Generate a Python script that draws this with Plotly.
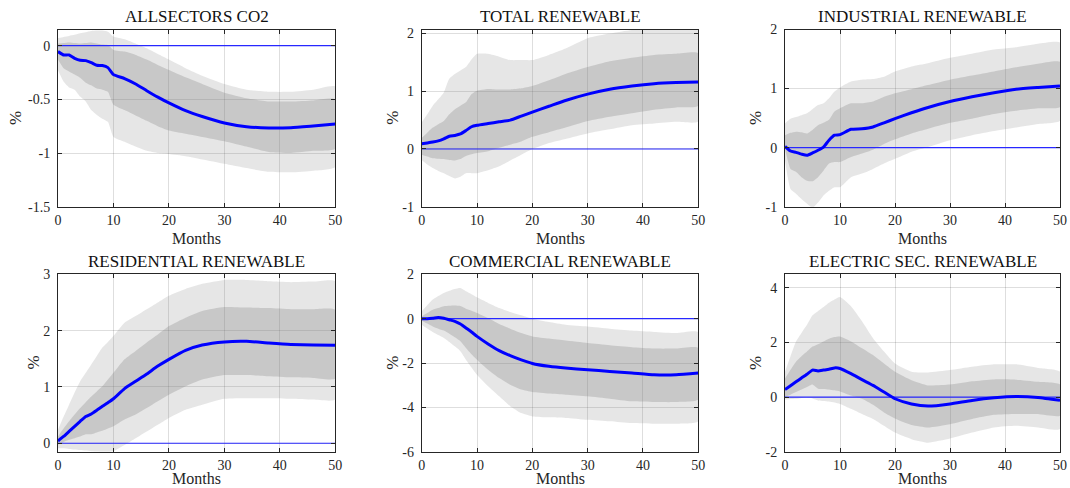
import plotly.graph_objects as go

# Horizon (months) at which the impulse responses are tabulated
months = [0, 1, 2, 3, 4, 5, 6, 7, 8, 9, 10, 12, 14, 16, 18, 20, 23, 26, 30, 34, 38, 42, 46, 50]

titles = ["ALLSECTORS CO2", "TOTAL RENEWABLE", "INDUSTRIAL RENEWABLE",
          "RESIDENTIAL RENEWABLE", "COMMERCIAL RENEWABLE", "ELECTRIC SEC. RENEWABLE"]

# ---- ALLSECTORS CO2 ----
co2_med = [-0.056, -0.087, -0.087, -0.118, -0.137, -0.14, -0.158, -0.183, -0.186, -0.205, -0.27, -0.307,
           -0.357, -0.42, -0.48, -0.534, -0.606, -0.66, -0.72, -0.755, -0.767, -0.764, -0.748, -0.73]
co2_in_up = [0.02, 0.025, 0.03, 0.025, 0.02, 0.025, 0.03, 0.02, 0.01, 0.005, -0.04, -0.056,
             -0.087, -0.13, -0.18, -0.227, -0.295, -0.357, -0.438, -0.49, -0.52, -0.52, -0.51, -0.5]
co2_in_lo = [-0.13, -0.21, -0.24, -0.27, -0.30, -0.345, -0.37, -0.40, -0.41, -0.43, -0.55, -0.60,
             -0.65, -0.70, -0.75, -0.79, -0.82, -0.85, -0.89, -0.94, -0.99, -1.0, -0.98, -0.96]
co2_out_up = [0.07, 0.08, 0.09, 0.10, 0.115, 0.125, 0.137, 0.14, 0.14, 0.13, 0.085, 0.06,
              0.02, -0.025, -0.078, -0.13, -0.21, -0.28, -0.357, -0.41, -0.43, -0.43, -0.41, -0.38]
co2_out_lo = [-0.23, -0.335, -0.39, -0.41, -0.475, -0.52, -0.60, -0.645, -0.68, -0.71, -0.85, -0.895,
              -0.94, -0.98, -1.0, -1.01, -1.03, -1.06, -1.10, -1.14, -1.175, -1.18, -1.165, -1.13]

# ---- TOTAL RENEWABLE ----
tot_med = [0.09, 0.105, 0.12, 0.14, 0.175, 0.22, 0.235, 0.26, 0.32, 0.385, 0.41, 0.44,
           0.47, 0.50, 0.57, 0.64, 0.74, 0.84, 0.95, 1.035, 1.09, 1.13, 1.15, 1.16]
tot_in_up = [0.19, 0.28, 0.37, 0.43, 0.485, 0.60, 0.69, 0.75, 0.81, 0.95, 1.01, 1.04,
             1.03, 1.03, 1.05, 1.09, 1.19, 1.30, 1.42, 1.52, 1.58, 1.63, 1.65, 1.66]
tot_in_lo = [-0.10, -0.13, -0.16, -0.17, -0.175, -0.19, -0.20, -0.175, -0.12, -0.09, -0.07, -0.04,
             0.02, 0.075, 0.13, 0.21, 0.29, 0.37, 0.485, 0.56, 0.62, 0.68, 0.72, 0.75]
tot_out_up = [0.46, 0.60, 0.75, 0.86, 0.98, 1.22, 1.30, 1.36, 1.42, 1.55, 1.65, 1.65,
              1.60, 1.54, 1.54, 1.54, 1.63, 1.74, 1.92, 2.0, 2.06, 2.09, 2.1, 2.1]
tot_out_lo = [-0.19, -0.27, -0.33, -0.38, -0.42, -0.47, -0.51, -0.48, -0.42, -0.42, -0.42, -0.37,
              -0.30, -0.2, -0.1, 0.0, 0.105, 0.175, 0.27, 0.34, 0.41, 0.44, 0.47, 0.475]

# ---- INDUSTRIAL RENEWABLE ----
ind_med = [0.02, -0.057, -0.08, -0.11, -0.13, -0.09, -0.045, 0.01, 0.125, 0.21, 0.22, 0.31,
           0.32, 0.35, 0.42, 0.49, 0.59, 0.68, 0.78, 0.86, 0.93, 0.99, 1.02, 1.045]
ind_in_up = [0.21, 0.25, 0.27, 0.26, 0.24, 0.30, 0.38, 0.42, 0.47, 0.61, 0.665, 0.75,
             0.75, 0.78, 0.86, 0.92, 0.99, 1.06, 1.15, 1.22, 1.29, 1.36, 1.42, 1.45]
ind_in_lo = [-0.02, -0.36, -0.41, -0.50, -0.56, -0.57, -0.50, -0.39, -0.27, -0.245, -0.245, -0.16,
             -0.10, -0.035, 0.06, 0.14, 0.24, 0.32, 0.42, 0.49, 0.57, 0.625, 0.665, 0.69]
ind_out_up = [0.41, 0.49, 0.52, 0.55, 0.58, 0.65, 0.72, 0.75, 0.835, 0.95, 1.02, 1.12,
              1.15, 1.16, 1.20, 1.29, 1.375, 1.43, 1.52, 1.59, 1.66, 1.70, 1.76, 1.78]
ind_out_lo = [-0.22, -0.70, -0.78, -0.87, -0.95, -1.02, -0.93, -0.81, -0.73, -0.67, -0.67, -0.50,
              -0.44, -0.36, -0.27, -0.19, -0.07, 0.01, 0.125, 0.21, 0.28, 0.34, 0.40, 0.455]

# ---- RESIDENTIAL RENEWABLE ----
res_med = [0.04, 0.12, 0.21, 0.30, 0.39, 0.475, 0.52, 0.585, 0.655, 0.72, 0.79, 0.97,
           1.10, 1.23, 1.37, 1.49, 1.65, 1.745, 1.80, 1.81, 1.78, 1.755, 1.745, 1.74]
res_in_up = [0.12, 0.26, 0.39, 0.51, 0.625, 0.73, 0.83, 0.92, 1.01, 1.13, 1.25, 1.49,
             1.64, 1.79, 1.93, 2.08, 2.23, 2.35, 2.42, 2.41, 2.40, 2.38, 2.38, 2.37]
res_in_lo = [-0.02, 0.02, 0.06, 0.09, 0.12, 0.16, 0.16, 0.19, 0.22, 0.26, 0.30, 0.42,
             0.51, 0.625, 0.745, 0.86, 1.01, 1.13, 1.21, 1.21, 1.19, 1.17, 1.16, 1.15]
res_out_up = [0.24, 0.47, 0.685, 0.90, 1.10, 1.25, 1.40, 1.55, 1.70, 1.80, 1.905, 2.14,
              2.26, 2.38, 2.50, 2.62, 2.74, 2.83, 2.90, 2.90, 2.875, 2.86, 2.87, 2.875]
res_out_lo = [-0.09, -0.09, -0.10, -0.11, -0.12, -0.13, -0.14, -0.145, -0.15, -0.15, -0.14, -0.03,
              0.09, 0.21, 0.33, 0.45, 0.595, 0.685, 0.79, 0.80, 0.80, 0.79, 0.775, 0.775]

# ---- COMMERCIAL RENEWABLE ----
com_med = [0.0, 0.0, 0.02, 0.05, 0.02, -0.05, -0.12, -0.24, -0.42, -0.60, -0.80, -1.14,
           -1.44, -1.67, -1.86, -2.02, -2.15, -2.23, -2.30, -2.38, -2.45, -2.53, -2.53, -2.45]
com_in_up = [0.1, 0.25, 0.4, 0.48, 0.56, 0.58, 0.59, 0.57, 0.45, 0.36, 0.26, 0.03,
             -0.24, -0.45, -0.65, -0.80, -0.90, -0.99, -1.10, -1.20, -1.29, -1.35, -1.35, -1.32]
com_in_lo = [-0.09, -0.22, -0.35, -0.45, -0.54, -0.68, -0.84, -1.02, -1.32, -1.60, -1.85, -2.30,
             -2.68, -2.98, -3.2, -3.31, -3.38, -3.43, -3.50, -3.61, -3.73, -3.76, -3.76, -3.65]
com_out_up = [0.33, 0.6, 0.86, 1.02, 1.16, 1.26, 1.34, 1.38, 1.23, 1.10, 0.96, 0.71,
              0.48, 0.30, 0.15, 0.0, -0.15, -0.27, -0.35, -0.45, -0.54, -0.60, -0.65, -0.60]
com_out_lo = [-0.27, -0.44, -0.60, -0.74, -0.87, -1.05, -1.25, -1.47, -1.85, -2.2, -2.53, -3.05,
              -3.5, -3.95, -4.26, -4.41, -4.45, -4.48, -4.56, -4.63, -4.71, -4.74, -4.74, -4.63]

# ---- ELECTRIC SEC. RENEWABLE ----
ele_med = [0.28, 0.42, 0.56, 0.70, 0.84, 0.99, 0.96, 0.99, 1.02, 1.07, 1.05, 0.86,
           0.64, 0.43, 0.185, -0.06, -0.25, -0.33, -0.25, -0.12, -0.025, 0.025, -0.01, -0.12]
ele_in_up = [0.68, 1.0, 1.30, 1.50, 1.67, 1.85, 1.94, 2.04, 2.14, 2.20, 2.22, 2.04,
             1.79, 1.54, 1.23, 0.93, 0.62, 0.43, 0.46, 0.58, 0.65, 0.64, 0.56, 0.46]
ele_in_lo = [0.0, 0.09, 0.185, 0.28, 0.37, 0.46, 0.31, 0.30, 0.28, 0.25, 0.21, 0.06,
             -0.06, -0.28, -0.56, -0.78, -1.02, -1.11, -0.99, -0.80, -0.65, -0.62, -0.62, -0.68]
ele_out_up = [0.93, 1.5, 2.04, 2.35, 2.65, 3.0, 3.15, 3.30, 3.46, 3.58, 3.67, 3.33,
              2.78, 2.16, 1.67, 1.23, 0.93, 0.90, 0.99, 1.11, 1.20, 1.20, 1.07, 0.93]
ele_out_lo = [-0.09, -0.07, -0.06, -0.03, 0.0, -0.05, -0.12, -0.14, -0.16, -0.2, -0.25, -0.43,
              -0.62, -0.80, -1.05, -1.30, -1.54, -1.67, -1.52, -1.30, -1.11, -1.05, -1.11, -1.17]

# y-axis ranges and ticks of each panel
y_ranges = [[-1.5, 0.15], [-1, 2.07], [-1, 2], [-0.15, 3], [-6, 2], [-2, 4.5]]
y_ticks = [[-1.5, -1, -0.5, 0], [-1, 0, 1, 2], [-1, 0, 1, 2], [0, 1, 2, 3], [-6, -4, -2, 0, 2], [-2, 0, 2, 4]]
x_ticks = [0, 10, 20, 30, 40, 50]

panels = [
    (co2_med, co2_in_lo, co2_in_up, co2_out_lo, co2_out_up),
    (tot_med, tot_in_lo, tot_in_up, tot_out_lo, tot_out_up),
    (ind_med, ind_in_lo, ind_in_up, ind_out_lo, ind_out_up),
    (res_med, res_in_lo, res_in_up, res_out_lo, res_out_up),
    (com_med, com_in_lo, com_in_up, com_out_lo, com_out_up),
    (ele_med, ele_in_lo, ele_in_up, ele_out_lo, ele_out_up),
]

# Layout geometry (pixels)
W, H = 1070, 488
col_px = [(58, 335.3), (421.7, 698.3), (785, 1060)]
row_px = [(29.5, 206.7), (274.3, 451.7)]
pct_x = [15, 391.7, 755, 32.5, 391.7, 755]

TXT = "#262626"
FONT = "Liberation Serif"

fig = go.Figure()
annotations = []

for i, (med, in_lo, in_up, out_lo, out_up) in enumerate(panels):
    r, c = divmod(i, 3)
    n = i + 1
    xa = "x" if n == 1 else f"x{n}"
    ya = "y" if n == 1 else f"y{n}"
    x0, x1 = col_px[c]
    top, bot = row_px[r]

    # outer (light) band
    fig.add_trace(go.Scatter(x=months + months[::-1], y=out_up + out_lo[::-1],
                             fill="toself", fillcolor="rgba(128,128,128,0.2)",
                             line=dict(width=0, shape="spline", smoothing=0.5),
                             mode="lines", hoverinfo="skip",
                             xaxis=xa, yaxis=ya, showlegend=False))
    # inner (dark) band
    fig.add_trace(go.Scatter(x=months + months[::-1], y=in_up + in_lo[::-1],
                             fill="toself", fillcolor="rgba(128,128,128,0.29)",
                             line=dict(width=0, shape="spline", smoothing=0.5),
                             mode="lines", hoverinfo="skip",
                             xaxis=xa, yaxis=ya, showlegend=False))
    # zero reference
    fig.add_trace(go.Scatter(x=[months[0], months[-1]], y=[0, 0], mode="lines",
                             line=dict(color="rgb(40,40,255)", width=1.2),
                             xaxis=xa, yaxis=ya, showlegend=False, hoverinfo="skip"))
    # median response
    fig.add_trace(go.Scatter(x=months, y=med, mode="lines",
                             line=dict(color="rgb(0,0,255)", width=3, shape="spline", smoothing=0.5),
                             xaxis=xa, yaxis=ya, showlegend=False))

    axis_common = dict(showline=True, linecolor=TXT, linewidth=1, mirror="ticks",
                       ticks="inside", ticklen=4, tickcolor=TXT, tickwidth=1,
                       showgrid=True, gridcolor="rgba(0,0,0,0.13)", gridwidth=1,
                       zeroline=False, automargin=False,
                       tickfont=dict(family=FONT, size=14, color=TXT))
    fig.update_layout(**{
        ("xaxis" if n == 1 else f"xaxis{n}"): dict(
            domain=[x0 / W, x1 / W], range=[0, 50], tickvals=x_ticks,
            anchor=ya, ticklabelstandoff=0, **axis_common),
        ("yaxis" if n == 1 else f"yaxis{n}"): dict(
            domain=[1 - bot / H, 1 - top / H], range=y_ranges[i],
            tickvals=y_ticks[i], ticktext=[f"{v:g}" for v in y_ticks[i]],
            anchor=xa, ticklabelstandoff=4, **axis_common),
    })

    cx = (x0 + x1) / 2
    annotations.append(dict(text=titles[i], x=cx / W, y=1 - (top - 13) / H,
                            xref="paper", yref="paper", showarrow=False,
                            xanchor="center", yanchor="middle",
                            font=dict(family=FONT, size=17, color="#111111")))
    # x-axis label in the gap below each panel (bottom row: on the figure's lower edge)
    months_bottom = min(bot + 41, H)
    annotations.append(dict(text="Months", x=cx / W, y=1 - months_bottom / H,
                            xref="paper", yref="paper", showarrow=False,
                            xanchor="center", yanchor="bottom", borderpad=0,
                            font=dict(family=FONT, size=16, color=TXT)))
    annotations.append(dict(text="%", x=pct_x[i] / W, y=1 - ((top + bot) / 2) / H,
                            xref="paper", yref="paper", showarrow=False, textangle=-90,
                            xanchor="center", yanchor="middle",
                            font=dict(family=FONT, size=17, color=TXT)))

fig.update_layout(width=W, height=H, margin=dict(l=0, r=0, t=0, b=0),
                  paper_bgcolor="white", plot_bgcolor="white",
                  annotations=annotations, showlegend=False)

fig.write_html("out.html")
